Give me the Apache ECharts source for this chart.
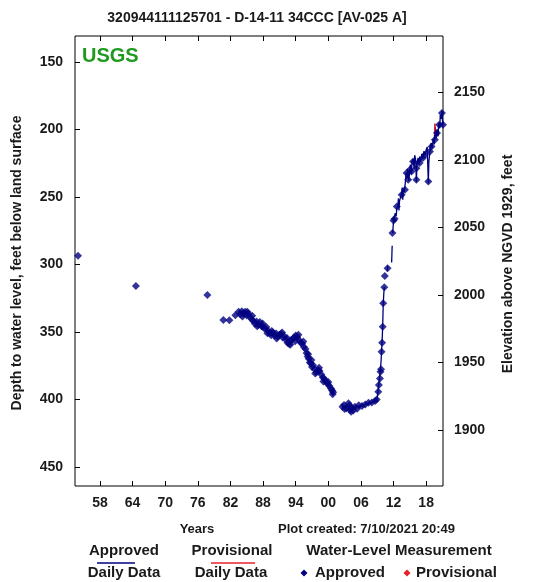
<!DOCTYPE html>
<html>
<head>
<meta charset="utf-8">
<script src="https://cdn.jsdelivr.net/npm/echarts@6/dist/echarts.min.js"></script>
<style>
  html, body { margin: 0; padding: 0; background: #fff; }
  #chart { width: 540px; height: 582px; }
</style>
</head>
<body>
<div id="chart"></div>
<script>
// Well 320944111125701 (D-14-11 34CCC) — depth to water, feet below land surface
const landSurface = 2322.5; // land-surface altitude, ft above NGVD 1929

// Tick values and labels
const depthTicks = [150, 200, 250, 300, 350, 400, 450];
const elevTicks = [1900, 1950, 2000, 2050, 2100, 2150];
const yearTicks = [1958, 1964, 1970, 1976, 1982, 1988, 1994, 2000, 2006, 2012, 2018];
const yearLabels = ['58', '64', '70', '76', '82', '88', '94', '00', '06', '12', '18'];

// Periodic measurements [decimal year, depth ft]
const earlyLevels = [[1953.95, 293.5], [1964.6, 315.8], [1977.75, 322.5]];

const declineLevels = [
  [1980.7, 341.0], [1981.8, 341.2], [1982.9, 337.5], [1983.5, 335.0], [1983.8, 336.8],
  [1984.1, 334.6], [1984.4, 336.2], [1984.7, 335.0], [1985.0, 337.8], [1985.3, 336.4],
  [1985.6, 338.8], [1985.9, 340.5], [1986.2, 341.8], [1986.5, 343.9], [1986.8, 342.2],
  [1987.1, 344.8], [1987.4, 342.5], [1987.7, 345.6], [1988.0, 346.0], [1988.3, 347.5],
  [1988.6, 346.2], [1988.9, 349.0], [1989.2, 350.8], [1989.5, 352.3], [1989.8, 350.4],
  [1990.1, 352.6], [1990.4, 351.0], [1990.7, 353.2], [1991.0, 352.0], [1991.3, 351.2],
  [1991.6, 354.0], [1991.9, 353.0], [1992.2, 355.6], [1992.5, 357.9], [1992.8, 358.8],
  [1993.1, 356.0], [1993.4, 355.3], [1993.7, 354.1], [1994.0, 352.6], [1994.3, 353.6],
  [1994.6, 355.8], [1994.9, 357.8], [1995.2, 358.6], [1995.5, 361.0], [1995.8, 362.5],
  [1996.0, 365.5], [1996.2, 368.0], [1996.4, 369.8], [1996.6, 372.6], [1996.8, 373.2],
  [1997.0, 375.8], [1997.2, 374.6], [1997.5, 377.6], [1997.8, 379.8], [1998.1, 378.2],
  [1998.4, 378.9], [1998.7, 381.4], [1999.0, 383.6], [1999.3, 384.8], [1999.6, 386.8],
  [1999.9, 388.4], [2000.2, 390.0], [2000.5, 391.8], [2000.7, 393.2], [2000.9, 394.6],
  [1984.2, 338.4], [1985.1, 334.9], [1986.0, 337.9], [1986.9, 345.6], [1987.9, 343.7],
  [1988.8, 350.9], [1989.6, 349.2], [1990.5, 354.8], [1991.5, 350.4], [1992.4, 354.4],
  [1993.0, 359.4], [1993.9, 356.8], [1994.5, 351.9], [1995.4, 356.9], [1996.3, 366.4],
  [1996.9, 370.6], [1997.6, 380.6], [1998.3, 376.4], [1999.1, 386.6], [2000.0, 386.9],
  [2000.8, 396.1]
];

const recoveryLevels = [
  [2002.6, 405.3], [2002.9, 404.0], [2003.3, 406.5], [2003.7, 402.8], [2004.0, 407.5],
  [2004.3, 405.8], [2004.6, 408.0], [2004.9, 405.3], [2005.3, 406.8], [2005.6, 404.1],
  [2006.2, 404.8], [2006.8, 403.6], [2007.4, 402.4], [2008.0, 402.1], [2008.6, 401.1],
  [2008.9, 399.9], [2009.2, 394.2], [2009.3, 389.2], [2009.5, 384.3], [2009.6, 379.4],
  [2009.7, 377.6], [2009.8, 364.5], [2009.9, 357.9], [2010.0, 346.0], [2010.1, 328.6],
  [2010.3, 316.8], [2010.4, 308.4], [2010.9, 302.7], [2011.8, 276.7], [2012.0, 267.4],
  [2012.2, 266.0], [2012.6, 257.0], [2013.5, 248.3], [2014.1, 244.6], [2014.4, 232.2],
  [2014.7, 237.2], [2015.0, 229.7], [2015.3, 231.0], [2015.6, 223.6], [2016.2, 237.2],
  [2016.2, 228.6], [2016.8, 224.8], [2017.4, 221.0], [2017.8, 218.6], [2018.4, 238.4],
  [2018.7, 216.2], [2019.0, 212.5], [2019.6, 207.5], [2020.0, 202.5], [2020.4, 196.4],
  [2020.9, 187.7], [2021.1, 196.4], [2003.0, 407.0], [2004.2, 409.0], [2003.9, 404.4]
];

// Daily values, split where the record has gaps
const dailyApproved = [
  [[2002.6, 405.0], [2002.9, 404.2], [2003.2, 406.4], [2003.5, 404.6], [2003.8, 407.2],
   [2004.1, 406.0], [2004.4, 408.0], [2004.7, 405.6], [2005.0, 406.6], [2005.3, 404.4],
   [2005.7, 405.6], [2006.1, 404.8], [2006.5, 405.4], [2006.8, 403.6], [2007.2, 403.0],
   [2007.6, 402.2], [2008.0, 402.4], [2008.4, 401.2], [2008.8, 400.6], [2009.0, 399.0],
   [2009.1, 395.0], [2009.25, 389.5], [2009.4, 384.5], [2009.55, 379.0], [2009.7, 372.0],
   [2009.8, 364.0], [2009.9, 356.5], [2010.0, 346.5], [2010.1, 330.0], [2010.2, 322.0],
   [2010.3, 316.5]],
  [[2010.85, 305.0], [2010.95, 301.0]],
  [[2011.65, 298.4], [2011.75, 286.0]],
  [[2011.85, 276.7], [2012.0, 267.4], [2012.1, 266.0], [2012.3, 262.0], [2012.5, 264.0],
   [2012.6, 258.0], [2012.8, 256.0], [2012.9, 251.0], [2013.0, 260.0], [2013.1, 253.0],
   [2013.3, 252.0], [2013.5, 247.0], [2013.6, 243.0], [2013.7, 252.0], [2013.8, 244.0],
   [2014.0, 246.0], [2014.2, 238.0], [2014.3, 232.0], [2014.5, 236.0], [2014.6, 229.0],
   [2014.8, 238.0], [2015.0, 230.0], [2015.1, 226.0], [2015.3, 233.0], [2015.4, 224.0],
   [2015.6, 222.0], [2015.8, 229.0], [2015.9, 219.0], [2016.1, 223.0], [2016.2, 239.0],
   [2016.3, 227.0], [2016.5, 221.0], [2016.7, 226.0], [2016.8, 220.0], [2017.0, 224.0],
   [2017.2, 218.0], [2017.4, 222.0], [2017.6, 216.0], [2017.8, 219.0], [2018.0, 215.0],
   [2018.2, 213.0], [2018.4, 240.0], [2018.5, 224.0], [2018.7, 216.0], [2018.9, 210.0],
   [2019.1, 214.0], [2019.3, 207.0], [2019.5, 211.0], [2019.55, 204.0]],
  [[2019.65, 198.0], [2019.8, 207.0], [2020.0, 200.0], [2020.2, 205.0], [2020.3, 195.0],
   [2020.5, 199.0], [2020.6, 189.0], [2020.8, 192.0], [2020.9, 186.0], [2021.0, 193.0],
   [2021.1, 196.0]]
];
const dailyProvisional = [[2019.55, 204.0], [2019.6, 195.5], [2019.65, 198.0]];

const navy = '#000080';
const red = '#e8202a';
const font = '"Liberation Sans", Arial, Helvetica, sans-serif';

const series = [];
dailyApproved.forEach(seg => series.push({
  type: 'line', xAxisIndex: 0, yAxisIndex: 0, data: seg,
  showSymbol: false, symbol: 'none', silent: true,
  lineStyle: { color: navy, width: 1.3 }, z: 2
}));
series.push({
  type: 'line', xAxisIndex: 0, yAxisIndex: 0, data: dailyProvisional,
  showSymbol: false, symbol: 'none', silent: true,
  lineStyle: { color: red, width: 1.5 }, z: 3
});
series.push({
  type: 'scatter', xAxisIndex: 0, yAxisIndex: 0,
  data: earlyLevels.concat(declineLevels, recoveryLevels),
  symbol: 'diamond', symbolSize: 8,
  itemStyle: { color: navy }, z: 4
});

const labelStyle = { color: '#1a1a1a', fontFamily: font, fontWeight: 'bold', fontSize: 14 };
const tickStyle = { show: true, inside: true, length: 5, lineStyle: { color: '#000', width: 1 } };

function txt(x, y, text, size, align, extra) {
  return Object.assign({
    type: 'text', x: x, y: y, silent: true,
    style: {
      text: text, fill: '#1a1a1a', font: 'bold ' + size + 'px ' + font,
      textAlign: align || 'center', textVerticalAlign: 'middle'
    }
  }, extra || {});
}
function diamond(cx, cy, r, color) {
  return {
    type: 'polygon', silent: true,
    shape: { points: [[cx, cy - r], [cx + r, cy], [cx, cy + r], [cx - r, cy]] },
    style: { fill: color }
  };
}

const chart = echarts.init(document.getElementById('chart'), null, { renderer: 'canvas' });
chart.setOption({
  animation: false,
  backgroundColor: '#fff',
  grid: { left: 75, right: 97, top: 36, bottom: 96, show: true, borderColor: '#000', borderWidth: 1, backgroundColor: 'transparent' },
  xAxis: [
    {
      type: 'value', position: 'bottom', min: 1953.4, max: 2021.1,
      axisLine: { show: false }, splitLine: { show: false },
      axisTick: Object.assign({ customValues: yearTicks }, tickStyle),
      axisLabel: Object.assign({
        customValues: yearTicks, margin: 10,
        formatter: v => yearLabels[yearTicks.indexOf(Math.round(v))] || ''
      }, labelStyle)
    },
    {
      type: 'value', position: 'top', min: 1953.4, max: 2021.1,
      axisLine: { show: false }, splitLine: { show: false },
      axisTick: Object.assign({ customValues: yearTicks }, tickStyle),
      axisLabel: { show: false }
    }
  ],
  yAxis: [
    {
      type: 'value', position: 'left', inverse: true, min: 130.7, max: 464,
      axisLine: { show: false }, splitLine: { show: false },
      axisTick: Object.assign({ customValues: depthTicks }, tickStyle),
      axisLabel: Object.assign({ customValues: depthTicks, margin: 12, formatter: v => String(Math.round(v)) }, labelStyle)
    },
    {
      type: 'value', position: 'right', min: landSurface - 464, max: landSurface - 130.7,
      axisLine: { show: false }, splitLine: { show: false },
      axisTick: Object.assign({ customValues: elevTicks }, tickStyle),
      axisLabel: Object.assign({ customValues: elevTicks, margin: 11, formatter: v => String(Math.round(v)) }, labelStyle)
    }
  ],
  series: series,
  graphic: [
    txt(257, 18, '320944111125701 - D-14-11 34CCC [AV-025 A]', 14),
    { type: 'text', x: 82, y: 56, silent: true, z: 10,
      style: { text: 'USGS', fill: '#1f9a1f', font: 'bold 20px ' + font, textAlign: 'left', textVerticalAlign: 'middle' } },
    txt(17, 263, 'Depth to water level, feet below land surface', 14, 'center', { rotation: Math.PI / 2 }),
    txt(508, 264, 'Elevation above NGVD 1929, feet', 14, 'center', { rotation: Math.PI / 2 }),
    txt(197, 529, 'Years', 13),
    txt(278, 529, 'Plot created: 7/10/2021 20:49', 13, 'left'),
    txt(124, 551, 'Approved', 15),
    { type: 'line', silent: true, shape: { x1: 97, y1: 563, x2: 135, y2: 563 }, style: { stroke: navy, lineWidth: 1.5 } },
    txt(124, 573, 'Daily Data', 15),
    txt(232, 551, 'Provisional', 15),
    { type: 'line', silent: true, shape: { x1: 211, y1: 563, x2: 255, y2: 563 }, style: { stroke: red, lineWidth: 1.5 } },
    txt(231, 573, 'Daily Data', 15),
    txt(399, 551, 'Water-Level Measurement', 15),
    diamond(304, 573, 3.5, navy),
    txt(315, 573, 'Approved', 15, 'left'),
    diamond(407, 573, 3.5, red),
    txt(416, 573, 'Provisional', 15, 'left')
  ]
});
</script>
</body>
</html>
